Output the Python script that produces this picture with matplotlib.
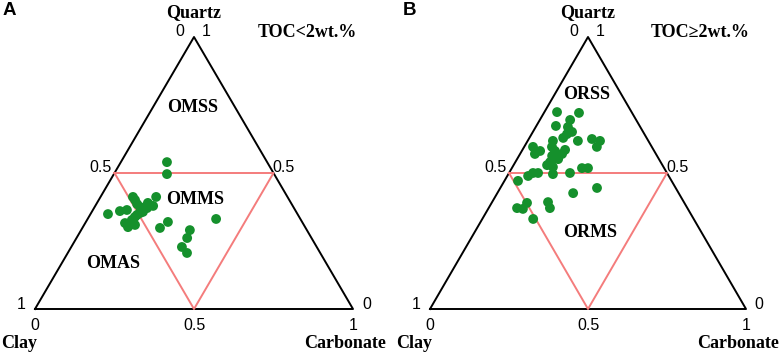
import matplotlib.pyplot as plt
import numpy as np

# ternary data: fractions of quartz, carbonate, clay (clay = 1 - quartz - carbonate)
quartz_a = [0.540, 0.496, 0.412, 0.401, 0.386, 0.412, 0.379, 0.371, 0.357, 0.353,
            0.338, 0.327, 0.316, 0.301, 0.309, 0.360, 0.364, 0.349, 0.375, 0.390,
            0.320, 0.298, 0.331, 0.290, 0.261, 0.228, 0.206, 0.346]
carb_a = [0.145, 0.167, 0.102, 0.114, 0.128, 0.175, 0.182, 0.167, 0.161, 0.154,
          0.145, 0.141, 0.125, 0.142, 0.160, 0.087, 0.107, 0.055, 0.143, 0.160,
          0.258, 0.244, 0.404, 0.342, 0.348, 0.348, 0.375, 0.148]

quartz_b = [0.724, 0.721, 0.695, 0.673, 0.669, 0.651, 0.643, 0.629, 0.618, 0.625,
            0.618, 0.596, 0.618, 0.596, 0.581, 0.570, 0.596, 0.581, 0.585, 0.570,
            0.563, 0.551, 0.540, 0.529, 0.522, 0.518, 0.518, 0.500, 0.500, 0.489,
            0.496, 0.500, 0.471, 0.426, 0.445, 0.371, 0.368, 0.390, 0.393, 0.371,
            0.331]
carb_b = [0.040, 0.111, 0.096, 0.062, 0.102, 0.124, 0.112, 0.107, 0.159, 0.200,
          0.229, 0.230, 0.080, 0.028, 0.058, 0.047, 0.088, 0.105, 0.135, 0.133,
          0.105, 0.130, 0.110, 0.106, 0.128, 0.222, 0.241, 0.076, 0.092, 0.066,
          0.141, 0.193, 0.043, 0.240, 0.306, 0.090, 0.110, 0.112, 0.177, 0.194,
          0.161]

panels = [
    dict(letter='A', toc='TOC<2wt.%', q=quartz_a, c=carb_a,
         regions=[('OMSS', 0.497, 0.739), ('OMMS', 0.503, 0.404), ('OMAS', 0.245, 0.169)],
         left=0, x0=35, w=318, letter_dx=3),
    dict(letter='B', toc='TOC\u22652wt.%', q=quartz_b, c=carb_b,
         regions=[('ORSS', 0.497, 0.787), ('ORMS', 0.506, 0.283)],
         left=391, x0=39, w=316, letter_dx=12),
]

W, H = 782, 353
ybase, hq = 44, 272  # pixels from bottom to clay-carbonate edge, pixels per unit quartz

serif = 'Liberation Serif'
sans = 'Liberation Sans'
green = '#15902c'
red = '#f47c7c'

fig = plt.figure(figsize=(W / 100, H / 100), dpi=100)

for p in panels:
    ax = fig.add_axes([p['left'] / W, 0, 391 / W, 1])
    ax.set_xlim(-p['x0'] / p['w'], (391 - p['x0']) / p['w'])
    ax.set_ylim(-ybase / hq, (H - ybase) / hq)
    ax.axis('off')

    # outer triangle
    ax.plot([0, 1, 0.5, 0], [0, 0, 1, 0], color='black', lw=1.4, zorder=2)
    # inner triangle at 50 %
    ax.plot([0.25, 0.75, 0.5, 0.25], [0.5, 0.5, 0, 0.5], color=red, lw=1.4, zorder=2)

    q = np.asarray(p['q'])
    c = np.asarray(p['c'])
    ax.scatter(c + q / 2, q, s=50, color=green, edgecolors='none', zorder=3)

    # corner labels
    lab = dict(family=serif, weight='bold', fontsize=13, va='center')
    ax.text(0.5, 1.09, 'Quartz', ha='center', **lab)
    ax.text(-0.05, -0.125, 'Clay', ha='center', **lab)
    ax.text(1.105, -0.125, 'Carbonate', ha='right', **lab)
    ax.text(0.855, 1.018, p['toc'], ha='center', **lab)
    ax.text((p['letter_dx'] - p['x0']) / p['w'], 1.096, p['letter'], family=sans,
            weight='bold', fontsize=13.5, ha='left', va='center')

    # tick values
    tk = dict(family=sans, fontsize=11.5, va='center')
    ax.text(0.456, 1.022, '0', ha='center', **tk)
    ax.text(0.538, 1.022, '1', ha='center', **tk)
    ax.text(0.242, 0.522, '0.5', ha='right', **tk)
    ax.text(0.748, 0.522, '0.5', ha='left', **tk)
    ax.text(-0.031, 0.018, '1', ha='right', **tk)
    ax.text(1.028, 0.018, '0', ha='left', **tk)
    ax.text(0, -0.059, '0', ha='center', **tk)
    ax.text(0.5, -0.059, '0.5', ha='center', **tk)
    ax.text(1, -0.059, '1', ha='center', **tk)

    for name, x, y in p['regions']:
        ax.text(x, y, name, family=serif, weight='bold', fontsize=13,
                ha='center', va='center')

fig.savefig('out.png', dpi=100)
